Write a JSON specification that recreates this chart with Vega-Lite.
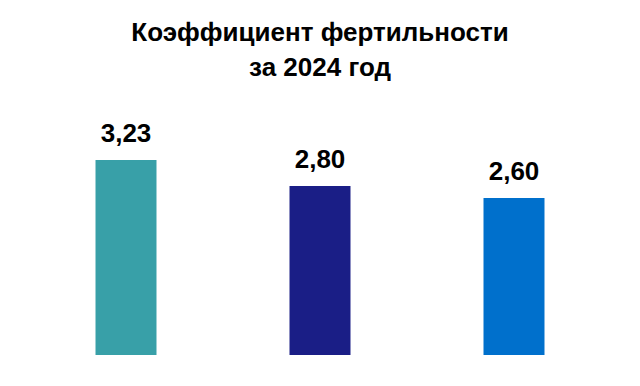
{
  "$schema": "https://vega.github.io/schema/vega-lite/v6.json",
  "autosize": "none",
  "width": 640,
  "height": 255,
  "padding": {"left": 0, "top": 100, "right": 0, "bottom": 31},
  "background": "white",
  "config": {"view": {"stroke": null}},
  "title": {
    "text": ["Коэффициент фертильности", "за 2024 год"],
    "font": "Liberation Sans",
    "fontSize": 26,
    "fontWeight": "bold",
    "color": "#000000",
    "lineHeight": 35,
    "anchor": "middle",
    "frame": "group",
    "offset": 19
  },
  "data": {
    "values": [
      {"group": "1", "value": 3.23, "label": "3,23"},
      {"group": "2", "value": 2.80, "label": "2,80"},
      {"group": "3", "value": 2.60, "label": "2,60"}
    ]
  },
  "encoding": {
    "x": {
      "field": "group",
      "type": "nominal",
      "axis": null,
      "scale": {"paddingInner": 0.6856, "paddingOuter": 0.4923}
    },
    "y": {
      "field": "value",
      "type": "quantitative",
      "axis": null,
      "scale": {"domain": [0, 4.224], "nice": false}
    }
  },
  "layer": [
    {
      "mark": {"type": "bar"},
      "encoding": {
        "color": {
          "field": "group",
          "type": "nominal",
          "legend": null,
          "scale": {"domain": ["1", "2", "3"], "range": ["#38a0a8", "#1a1e86", "#0070cc"]}
        }
      }
    },
    {
      "mark": {
        "type": "text",
        "dy": -18,
        "baseline": "alphabetic",
        "font": "Liberation Sans",
        "fontSize": 26,
        "fontWeight": "bold",
        "color": "#000000"
      },
      "encoding": {"text": {"field": "label"}}
    }
  ]
}
